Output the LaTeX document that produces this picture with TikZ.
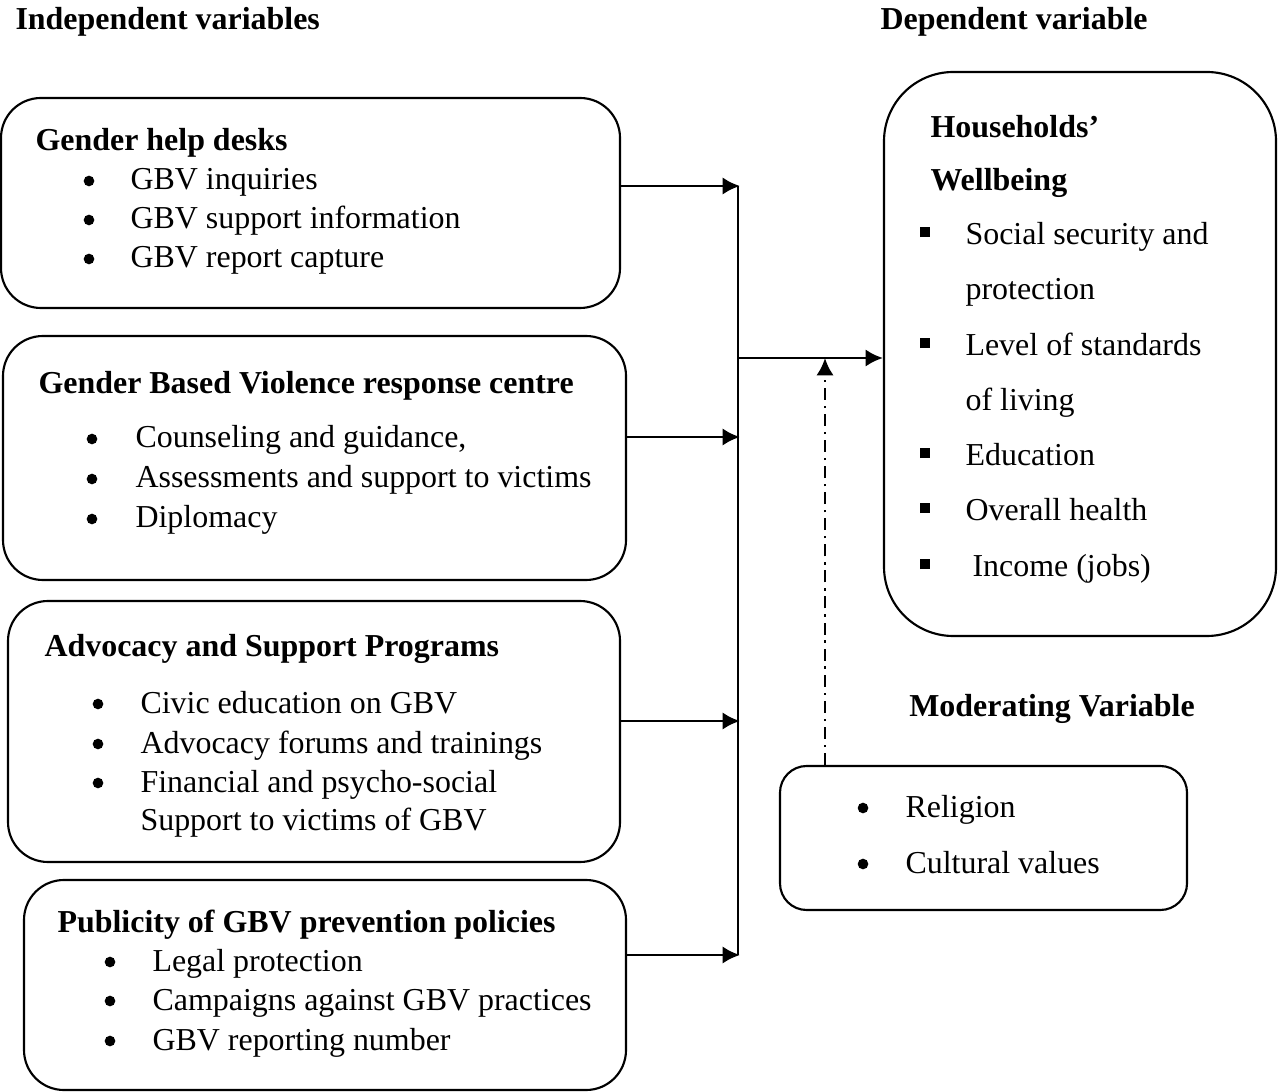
\documentclass[tikz,border=0pt]{standalone}
\usepackage{fontspec}
\setmainfont{Liberation Serif}
\usetikzlibrary{arrows.meta, fit}
\tikzset{>=latex}

\begin{document}
\begin{tikzpicture}[x=0.3757pt, y=-0.3757pt, >={Latex[length=6.5pt,width=6.5pt]},
    box/.style={draw, line width=0.8pt, rounded corners=15pt, inner sep=0pt},
    txt/.style={anchor=base west, inner sep=0pt, font=\fontsize{12}{14}\selectfont},
    head/.style={txt, font=\fontsize{12}{14}\selectfont\bfseries},
    dot/.style={circle, fill, inner sep=0pt, minimum size=4pt},
    sq/.style={anchor=base, inner sep=0pt},
    link/.style={->, line width=1.1pt}]
    \useasboundingbox (0,0) rectangle (1280,1092);
    \node[head] (indep) at (15,30) {Independent variables};
    \node[head] (dep) at (880,30) {Dependent variable};
    % independent variable boxes
    \node[box, fit={(1,98) (620,308)}] (desks) {};
    \node[head] (desksT) at (35,151) {Gender help desks};
    \node[dot] (d1) at (89,181) {};
    \node[txt] (d1T) at (130,190) {GBV inquiries};
    \node[dot] (d2) at (89,220) {};
    \node[txt] (d2T) at (130,229) {GBV support information};
    \node[dot] (d3) at (89,259) {};
    \node[txt] (d3T) at (130,268) {GBV report capture};
    \node[box, fit={(3,336) (626,580)}] (centre) {};
    \node[head] (centreT) at (38,394) {Gender Based Violence response centre};
    \node[dot] (c1) at (92,439) {};
    \node[txt] (c1T) at (135,448) {Counseling and guidance,};
    \node[dot] (c2) at (92,479) {};
    \node[txt] (c2T) at (135,488) {Assessments and support to victims};
    \node[dot] (c3) at (92,519) {};
    \node[txt] (c3T) at (135,528) {Diplomacy};
    \node[box, fit={(8,601) (620,862)}] (advoc) {};
    \node[head] (advocT) at (44,657) {Advocacy and Support Programs};
    \node[dot] (a1) at (98,704) {};
    \node[txt] (a1T) at (140,713) {Civic education on GBV};
    \node[dot] (a2) at (98,744) {};
    \node[txt] (a2T) at (140,753) {Advocacy forums and trainings};
    \node[dot] (a3) at (98,783) {};
    \node[txt] (a3T) at (140,792) {Financial and psycho-social};
    \node[txt] (a4T) at (140,830) {Support to victims of GBV};
    \node[box, fit={(24,880) (626,1090)}] (public) {};
    \node[head] (publicT) at (57,932) {Publicity of GBV prevention policies};
    \node[dot] (p1) at (110,962) {};
    \node[txt] (p1T) at (152,971) {Legal protection};
    \node[dot] (p2) at (110,1001) {};
    \node[txt] (p2T) at (152,1010) {Campaigns against GBV practices};
    \node[dot] (p3) at (110,1041) {};
    \node[txt] (p3T) at (152,1050) {GBV reporting number};
    % dependent variable
    \node[box, rounded corners=26pt, fit={(884,72) (1276,636)}] (well) {};
    \node[head] (wellT) at (930,138) {Households’};
    \node[head] (wellT2) at (930,191) {Wellbeing};
    \node[sq] (w1) at (925,245) {\rule[3pt]{3.7pt}{3.7pt}};
    \node[txt] (w1T) at (965,245) {Social security and};
    \node[txt] (w1T2) at (965,300) {protection};
    \node[sq] (w2) at (925,356) {\rule[3pt]{3.7pt}{3.7pt}};
    \node[txt] (w2T) at (965,356) {Level of standards};
    \node[txt] (w2T2) at (965,411) {of living};
    \node[sq] (w3) at (925,466) {\rule[3pt]{3.7pt}{3.7pt}};
    \node[txt] (w3T) at (965,466) {Education};
    \node[sq] (w4) at (925,521) {\rule[3pt]{3.7pt}{3.7pt}};
    \node[txt] (w4T) at (965,521) {Overall health};
    \node[sq] (w5) at (925,577) {\rule[3pt]{3.7pt}{3.7pt}};
    \node[txt] (w5T) at (972,577) {Income (jobs)};
    % moderating variable
    \node[head, anchor=base] (modT) at (1052,716) {Moderating Variable};
    \node[box, rounded corners=10pt, fit={(780,766) (1187,910)}] (moder) {};
    \node[dot] (m1) at (863,808) {};
    \node[txt] (m1T) at (905,817) {Religion};
    \node[dot] (m2) at (863,864) {};
    \node[txt] (m2T) at (905,873) {Cultural values};
    % connectors
    \coordinate (j1) at (740,186);
    \coordinate (j2) at (740,437);
    \coordinate (j3) at (740,721);
    \coordinate (j4) at (740,955);
    \coordinate (jm) at (738,358);
    \coordinate (jd) at (825,358);
    \draw[line width=0.9pt] (738,186) -- (738,955);
    \draw[link] (j1 -| desks.east) -- (j1);
    \draw[link] (j2 -| centre.east) -- (j2);
    \draw[link] (j3 -| advoc.east) -- (j3);
    \draw[link] (j4 -| public.east) -- (j4);
    \draw[link] (jm) -- (jm -| well.west);
    \draw[->, line width=1.1pt, dash pattern=on 4.5pt off 2.2pt on 0.9pt off 2.2pt] (jd |- moder.north) -- (jd);
\end{tikzpicture}
\end{document}
